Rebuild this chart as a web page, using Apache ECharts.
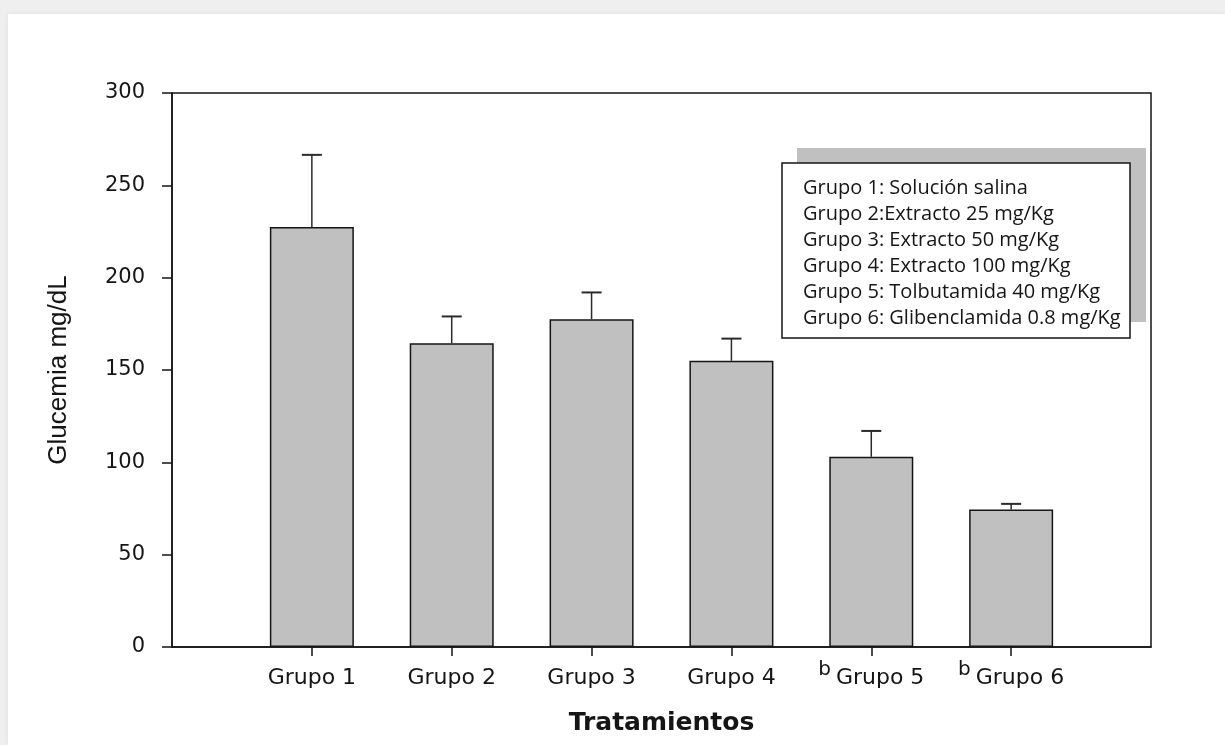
<!DOCTYPE html>
<html>
<head>
<meta charset="utf-8">
<script src="https://cdn.jsdelivr.net/npm/echarts@6/dist/echarts.min.js"></script>
<style>
  html, body { margin: 0; padding: 0; width: 1225px; height: 745px; overflow: hidden; background: #efefef; }
  #sheet { position: absolute; left: 8px; top: 14px; right: 0; bottom: 0; background: #fff; box-shadow: 0 0 5px rgba(0,0,0,0.07); }
  #chart { position: absolute; left: 0; top: 0; width: 1225px; height: 745px; }
</style>
</head>
<body>
<div id="sheet"></div>
<div id="chart"></div>
<script>
// Treatment groups and their significance marks
const groups = ['Grupo 1', 'Grupo 2', 'Grupo 3', 'Grupo 4', 'Grupo 5', 'Grupo 6'];
const marks = ['', '', '', '', 'b', 'b'];

// Mean glycaemia (mg/dL) and upper error per group
const means = [227.5, 164.5, 177.5, 155, 103, 74.5];
const errUp = [39, 14.5, 14.5, 12, 14, 3];

// Y axis range
const yMin = 0, yMax = 300, yStep = 50;

// Key describing each group
const treatments = [
  'Grupo 1: Solución salina',
  'Grupo 2:Extracto 25 mg/Kg',
  'Grupo 3: Extracto 50 mg/Kg',
  'Grupo 4: Extracto 100 mg/Kg',
  'Grupo 5: Tolbutamida 40 mg/Kg',
  'Grupo 6: Glibenclamida 0.8 mg/Kg'
];

// Empty slots at both ends leave a half-gap before the first and after the last bar
const categories = [''].concat(groups, ['']);
const barData = ['-'].concat(means, ['-']);
const errData = groups.map((g, i) => [i + 1, means[i], means[i] + errUp[i]]);
const labelMarks = {};
groups.forEach((g, i) => { labelMarks[g] = marks[i]; });

const ink = '#151515';
const chart = echarts.init(document.getElementById('chart'), null, { renderer: 'canvas' });

chart.setOption({
  backgroundColor: 'transparent',
  animation: false,
  grid: {
    left: 172, top: 93, right: 1225 - 1151, bottom: 745 - 647,
    show: true, borderColor: ink, borderWidth: 1.5, backgroundColor: 'transparent'
  },
  xAxis: {
    type: 'category',
    data: categories,
    boundaryGap: false,
    name: 'Tratamientos',
    nameLocation: 'middle',
    nameGap: 64,
    nameTextStyle: { fontFamily: 'DejaVu Sans', fontWeight: 'bold', fontSize: 25, color: ink },
    axisLine: { lineStyle: { color: ink, width: 1.5 } },
    axisTick: {
      length: 9, inside: false,
      interval: (idx) => idx > 0 && idx < categories.length - 1,
      lineStyle: { color: ink, width: 1.5 }
    },
    axisLabel: {
      margin: 13,
      interval: 0,
      formatter: (v) => {
        if (!v) return '';
        const m = labelMarks[v];
        return (m ? '{sup|' + m + '}' : '') + '{g|' + v + '}';
      },
      rich: {
        g: { fontFamily: 'DejaVu Sans', fontSize: 22, color: ink, lineHeight: 29, verticalAlign: 'bottom' },
        sup: { fontFamily: 'DejaVu Sans', fontSize: 20, color: ink, lineHeight: 24, verticalAlign: 'top', padding: [0, 5, 0, 0] }
      }
    },
    splitLine: { show: false }
  },
  yAxis: {
    type: 'value',
    min: yMin, max: yMax, interval: yStep,
    name: 'Glucemia mg/dL',
    nameLocation: 'middle',
    nameGap: 100,
    nameRotate: 90,
    nameTextStyle: { fontFamily: 'Liberation Sans', fontSize: 26, color: ink },
    axisLine: { show: true, lineStyle: { color: ink, width: 1.5 } },
    axisTick: { show: true, length: 10, lineStyle: { color: ink, width: 1.5 } },
    axisLabel: { margin: 27, fontFamily: 'DejaVu Sans', fontSize: 21, color: ink },
    splitLine: { show: false }
  },
  series: [
    {
      type: 'bar',
      data: barData,
      barWidth: 84,
      itemStyle: { color: '#c0c0c0', borderColor: ink, borderWidth: 1.5 },
      z: 2
    },
    {
      type: 'custom',
      data: errData,
      encode: { x: 0, y: [1, 2] },
      z: 3,
      renderItem: (params, api) => {
        const x = api.value(0);
        const base = api.coord([x, api.value(1)]);
        const top = api.coord([x, api.value(2)]);
        const half = 10;
        return {
          type: 'group',
          children: [
            { type: 'line', shape: { x1: base[0], y1: base[1], x2: top[0], y2: top[1] },
              style: { stroke: '#2a2a2a', lineWidth: 1.5 } },
            { type: 'line', shape: { x1: top[0] - half, y1: top[1], x2: top[0] + half, y2: top[1] },
              style: { stroke: '#2a2a2a', lineWidth: 2 } }
          ]
        };
      }
    }
  ],
  graphic: [
    { type: 'rect', z: 10, shape: { x: 797, y: 148, width: 349, height: 174 }, style: { fill: '#c0c0c0' } },
    { type: 'rect', z: 11, shape: { x: 782, y: 163, width: 348, height: 175 }, style: { fill: '#fff', stroke: ink, lineWidth: 1.5 } },
    { type: 'text', z: 12, style: {
        x: 803, y: 175, text: treatments.join('\n'),
        font: '20px "Open Sans"', lineHeight: 26, fill: ink, verticalAlign: 'top'
      } }
  ]
});
</script>
</body>
</html>
